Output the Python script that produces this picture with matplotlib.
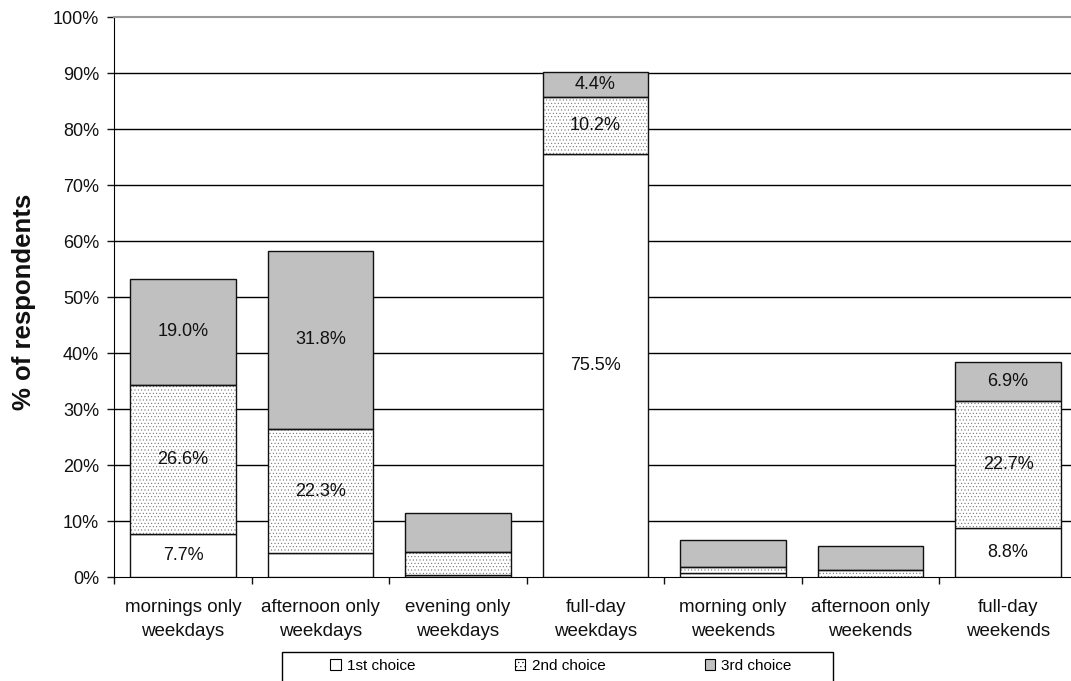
import matplotlib
matplotlib.use("Agg")
import matplotlib.pyplot as plt
from matplotlib.patches import Patch, Rectangle
import numpy as np

plt.rcParams["font.family"] = ["Liberation Sans", "DejaVu Sans"]
plt.rcParams["hatch.linewidth"] = 0.35

# Availability preferences, % of respondents
categories = [
    "mornings only\nweekdays",
    "afternoon only\nweekdays",
    "evening only\nweekdays",
    "full-day\nweekdays",
    "morning only\nweekends",
    "afternoon only\nweekends",
    "full-day\nweekends",
]
first_choice = [7.7, 4.2, 0.3, 75.5, 0.7, 0.0, 8.8]
second_choice = [26.6, 22.3, 4.1, 10.2, 1.1, 1.3, 22.7]
third_choice = [19.0, 31.8, 7.0, 4.4, 4.8, 4.2, 6.9]

# which segments carry a value label
show_first = [True, False, False, True, False, False, True]
show_second = [True, True, False, True, False, False, True]
show_third = [True, True, False, True, False, False, True]

series_names = ["1st choice", "2nd choice", "3rd choice"]
y_ticks = list(range(0, 101, 10))

W, H = 1071, 681
fig = plt.figure(figsize=(W / 100, H / 100), dpi=100)
ax = fig.add_axes([114.3 / W, 1 - 577 / H, (1076.8 - 114.3) / W, (577 - 17) / H])

x = np.arange(len(categories))
bw = 0.77
first = np.array(first_choice)
second = np.array(second_choice)
third = np.array(third_choice)

edge_lw = 1.0
stipple = "....."
# 1st choice: plain white
ax.bar(x, first, bw, color="white", edgecolor="#111111", linewidth=edge_lw, zorder=3)
# 2nd choice: fine stipple on white
ax.bar(x, second, bw, bottom=first, color="white", edgecolor="#6a6a6a",
       hatch=stipple, linewidth=0, zorder=3)
ax.bar(x, second, bw, bottom=first, fill=False, edgecolor="#111111",
       linewidth=edge_lw, zorder=4)
# 3rd choice: grey
ax.bar(x, third, bw, bottom=first + second, color="#C0C0C0", edgecolor="#111111",
       linewidth=edge_lw, zorder=3)

label_kw = dict(ha="center", va="center", fontsize=13, color="#111111", zorder=5)
for i in range(len(categories)):
    if show_first[i]:
        ax.text(x[i], first[i] / 2, f"{first[i]:.1f}%", **label_kw)
    if show_second[i]:
        ax.text(x[i], first[i] + second[i] / 2, f"{second[i]:.1f}%", **label_kw)
    if show_third[i]:
        ax.text(x[i], first[i] + second[i] + third[i] / 2, f"{third[i]:.1f}%", **label_kw)

ax.set_xlim(-0.5, len(categories) - 0.5)
ax.set_ylim(0, 100)
ax.set_yticks(y_ticks)
ax.set_yticklabels([f"{t}%" for t in y_ticks])
ax.tick_params(axis="y", direction="out", length=5, width=1, pad=6,
               labelsize=13, colors="#111111")
for t in y_ticks[1:-1]:
    ax.axhline(t, color="black", linewidth=1.0, zorder=1)

# category boundaries carry the tick marks, names sit at centres
ax.set_xticks(np.arange(-0.5, len(categories), 1.0))
ax.set_xticklabels([])
ax.tick_params(axis="x", which="major", direction="out", length=5, width=1, color="#111111")
ax.set_xticks(x, minor=True)
ax.set_xticklabels(categories, minor=True, fontsize=13.5, linespacing=1.55)
ax.tick_params(axis="x", which="minor", length=0, pad=16, labelcolor="#111111")

ax.spines["right"].set_visible(False)
ax.spines["top"].set_color("#999999")
ax.spines["top"].set_linewidth(1.5)
ax.spines["left"].set_color("black")
ax.spines["bottom"].set_color("black")

fig.text(24 / W, 1 - 301.5 / H, "% of respondents", rotation=90, ha="center",
         va="center", fontsize=18.5, fontweight="bold", color="#111111")

# legend box at the bottom
fig.patches.append(Rectangle((282 / W, 1 - 700 / H), (833 - 282) / W, (700 - 652) / H,
                             transform=fig.transFigure, facecolor="white",
                             edgecolor="black", linewidth=1.0))
handles = [
    Patch(facecolor="white", edgecolor="black", linewidth=0.8),
    Patch(facecolor="white", edgecolor="black", linewidth=0.8, hatch="...."),
    Patch(facecolor="#C0C0C0", edgecolor="black", linewidth=0.8),
]
fig.legend(handles, series_names, loc="center", ncol=3,
           bbox_to_anchor=(561 / W, 1 - 665.5 / H),
           frameon=False, fontsize=11, handlelength=0.7, handleheight=0.7,
           handletextpad=0.4, columnspacing=6.5, borderpad=0)

fig.savefig("out.png", dpi=100)
